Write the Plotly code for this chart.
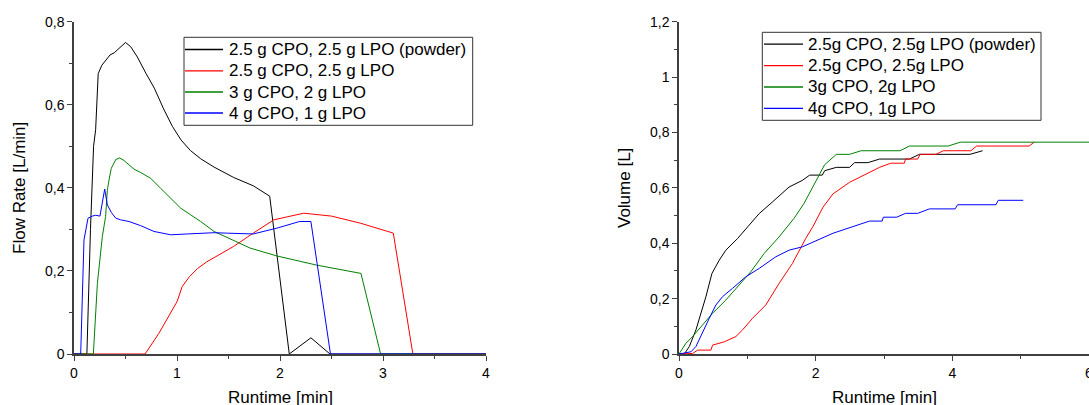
import plotly.graph_objects as go
from plotly.subplots import make_subplots

# ---- Flow rate [L/min] vs runtime [min] ----
flow_powder_t = [0, 0.125, 0.16, 0.19, 0.21, 0.235, 0.27, 0.30, 0.35, 0.39, 0.43, 0.50, 0.55,
                 0.615, 0.70, 0.78, 0.87, 0.955, 1.04, 1.13, 1.23, 1.36, 1.55, 1.74, 1.90,
                 2.09, 2.30, 2.485, 4.0]
flow_powder_v = [0, 0, 0.30, 0.50, 0.54, 0.675, 0.695, 0.705, 0.72, 0.725, 0.735, 0.75, 0.74,
                 0.715, 0.675, 0.64, 0.59, 0.548, 0.515, 0.49, 0.47, 0.45, 0.425, 0.405, 0.38,
                 0, 0.039, 0, 0]

flow_25_t = [0, 0.69, 0.825, 0.94, 1.00, 1.05, 1.12, 1.20, 1.29, 1.36, 1.55, 1.74, 1.94,
             2.23, 2.50, 2.78, 3.10, 3.29, 4.0]
flow_25_v = [0, 0, 0.05, 0.10, 0.126, 0.162, 0.186, 0.206, 0.222, 0.232, 0.259, 0.291, 0.323,
             0.339, 0.332, 0.315, 0.291, 0, 0]

flow_3_t = [0, 0.188, 0.227, 0.275, 0.307, 0.324, 0.34, 0.362, 0.405, 0.443, 0.485, 0.534,
            0.583, 0.647, 0.744, 0.841, 0.939, 1.036, 1.133, 1.23, 1.36, 1.547, 1.71, 1.97,
            2.356, 2.786, 2.977, 4.0]
flow_3_v = [0, 0, 0.17, 0.283, 0.331, 0.395, 0.419, 0.447, 0.468, 0.472, 0.466, 0.456,
            0.445, 0.437, 0.423, 0.399, 0.375, 0.351, 0.335, 0.319, 0.295, 0.274, 0.255, 0.236,
            0.214, 0.194, 0, 0]

flow_4_t = [0, 0.065, 0.097, 0.136, 0.178, 0.21, 0.252, 0.298, 0.324, 0.362, 0.405, 0.453,
            0.534, 0.647, 0.777, 0.939, 1.10, 1.36, 1.48, 1.74, 1.97, 2.19, 2.30, 2.49, 4.0]
flow_4_v = [0, 0, 0.275, 0.327, 0.332, 0.334, 0.332, 0.397, 0.359, 0.341, 0.327, 0.323,
            0.319, 0.309, 0.295, 0.287, 0.289, 0.292, 0.291, 0.289, 0.303, 0.319, 0.319, 0, 0]

# ---- Cumulative volume [L] vs runtime [min] ----
vol_powder_t = [0, 0.078, 0.151, 0.248, 0.394, 0.482, 0.589, 0.686, 0.857, 0.978, 1.173,
                1.367, 1.611, 1.806, 1.912, 2.097, 2.133, 2.302, 2.496, 2.569, 2.764, 2.935,
                3.372, 3.518, 4.258, 4.443]
vol_powder_v = [0, 0, 0.027, 0.087, 0.207, 0.291, 0.339, 0.375, 0.417, 0.453, 0.507,
                0.549, 0.603, 0.627, 0.646, 0.646, 0.662, 0.674, 0.674, 0.691, 0.691, 0.704,
                0.704, 0.721, 0.721, 0.734]

vol_25_t = [0, 0.2, 0.272, 0.467, 0.491, 0.662, 0.832, 0.93, 1.076, 1.27, 1.465, 1.66,
            1.854, 1.96, 2.107, 2.253, 2.496, 2.739, 2.934, 3.1, 3.299, 3.314, 3.494, 3.528,
            3.761, 3.868, 4.272, 4.355, 5.124, 5.197]
vol_25_v = [0, 0.002, 0.014, 0.014, 0.032, 0.044, 0.063, 0.087, 0.129, 0.177, 0.255, 0.327,
            0.417, 0.46, 0.53, 0.578, 0.62, 0.65, 0.674, 0.689, 0.689, 0.704, 0.704, 0.721,
            0.721, 0.734, 0.734, 0.751, 0.751, 0.765]

vol_3_t = [0, 0.102, 0.199, 0.345, 0.491, 0.686, 0.881, 1.051, 1.246, 1.465, 1.684, 1.83,
           1.96, 2.13, 2.302, 2.496, 2.666, 3.236, 3.372, 3.94, 4.116, 6.2]
vol_3_v = [0, 0.039, 0.063, 0.105, 0.147, 0.195, 0.249, 0.297, 0.363, 0.423, 0.49, 0.544,
           0.604, 0.683, 0.721, 0.721, 0.734, 0.734, 0.751, 0.751, 0.765, 0.765]

vol_4_t = [0, 0.175, 0.248, 0.345, 0.443, 0.54, 0.637, 0.783, 0.978, 1.173, 1.416, 1.611,
           1.806, 2.253, 2.788, 2.973, 2.99, 3.187, 3.314, 3.494, 3.664, 4.04, 4.078, 4.638,
           4.672, 5.037]
vol_4_v = [0, 0.008, 0.027, 0.081, 0.129, 0.177, 0.207, 0.237, 0.279, 0.309, 0.351, 0.375,
           0.387, 0.436, 0.48, 0.48, 0.494, 0.494, 0.508, 0.508, 0.524, 0.524, 0.539, 0.539,
           0.555, 0.555]

COLORS = ["#000000", "#ff0000", "#008000", "#0000ff"]
left_names = ["2.5 g CPO, 2.5 g LPO (powder)", "2.5 g CPO, 2.5 g LPO",
              "3 g CPO, 2 g LPO", "4 g CPO, 1 g LPO"]
right_names = ["2.5g CPO, 2.5g LPO (powder)", "2.5g CPO, 2.5g LPO",
               "3g CPO, 2g LPO", "4g CPO, 1g LPO"]
x_title = "Runtime [min]"

flow_series = [(flow_powder_t, flow_powder_v), (flow_25_t, flow_25_v),
               (flow_3_t, flow_3_v), (flow_4_t, flow_4_v)]
vol_series = [(vol_powder_t, vol_powder_v), (vol_25_t, vol_25_v),
              (vol_3_t, vol_3_v), (vol_4_t, vol_4_v)]

W, H = 1089, 405
FONT = "Liberation Sans, Arial, sans-serif"
AXIS_COLOR = "#404040"

fig = make_subplots(rows=1, cols=2)

for (t, v), name, c in zip(flow_series, left_names, COLORS):
    fig.add_trace(go.Scatter(x=t, y=v, mode="lines", name=name, showlegend=False,
                             line=dict(color=c, width=1)), row=1, col=1)
for (t, v), name, c in zip(vol_series, right_names, COLORS):
    fig.add_trace(go.Scatter(x=t, y=v, mode="lines", name=name, showlegend=False,
                             line=dict(color=c, width=1)), row=1, col=2)


def axis_style(dtick, minor_dtick, rng, title=None):
    style = dict(
        range=rng, dtick=dtick, tick0=0, showgrid=False, zeroline=False,
        automargin=False,
        showline=True, linecolor=AXIS_COLOR, linewidth=1.5, mirror=False,
        ticks="outside", ticklen=5, tickwidth=1.2, tickcolor=AXIS_COLOR,
        tickfont=dict(size=14, color="#000000", family=FONT),
        ticklabeloverflow="allow",
        minor=dict(dtick=minor_dtick, tick0=0, ticks="outside", ticklen=3,
                   tickwidth=1.2, tickcolor=AXIS_COLOR, showgrid=False),
    )
    if title:
        style["title"] = dict(text=title, font=dict(size=17, color="#000000", family=FONT))
    return style


left_dom = [74 / W, 486 / W]
right_dom = [679 / W, 1.0]
y_dom = [51 / H, (H - 21.7) / H]
fig.update_layout(
    xaxis=dict(domain=left_dom, **axis_style(1, 0.5, [0, 4])),
    yaxis=dict(domain=y_dom, **axis_style(0.2, 0.1, [0, 0.8], "Flow Rate [L/min]")),
    xaxis2=dict(domain=right_dom, **axis_style(2, 1, [0, 6])),
    yaxis2=dict(domain=y_dom, **axis_style(0.2, 0.1, [0, 1.2], "Volume [L]")),
)


# Pixel layout -> paper coordinates
def px_x(x):
    return x / W


def px_y(y):
    return (H - y) / H


# x-axis titles, sitting low against the bottom edge
for dom in (left_dom, right_dom):
    fig.add_annotation(text=x_title, xref="paper", yref="paper",
                       x=(dom[0] + dom[1]) / 2, y=px_y(397.5),
                       xanchor="center", yanchor="middle", showarrow=False,
                       font=dict(size=17, color="#000000", family=FONT))


# Boxed legends
def add_legend(names, box, row_y, line_x0, line_x1, text_x):
    x0, y0, x1, y1 = box
    fig.add_shape(type="rect", xref="paper", yref="paper",
                  x0=px_x(x0), x1=px_x(x1), y0=px_y(y1), y1=px_y(y0),
                  line=dict(color="#333333", width=1), fillcolor="white", layer="above")
    for name, c, ry in zip(names, COLORS, row_y):
        fig.add_shape(type="line", xref="paper", yref="paper",
                      x0=px_x(line_x0), x1=px_x(line_x1), y0=px_y(ry), y1=px_y(ry),
                      line=dict(color=c, width=1.3), layer="above")
        fig.add_annotation(text=name, xref="paper", yref="paper",
                           x=px_x(text_x), y=px_y(ry), xanchor="left", yanchor="middle",
                           showarrow=False,
                           font=dict(size=17, color="#000000", family=FONT))


add_legend(left_names, (184, 37.3, 472.7, 125.3), [49.5, 70.8, 92.0, 113.0], 185, 223, 227)
add_legend(right_names, (762.3, 32.3, 1041, 120.3), [44.2, 65.6, 87.0, 108.3], 764, 803, 806)

fig.update_layout(
    width=W, height=H,
    margin=dict(l=0, r=0, t=0, b=0),
    paper_bgcolor="white", plot_bgcolor="white",
    separators=",.",
    font=dict(family=FONT, color="#000000"),
    showlegend=False,
)

fig.write_html("out.html")
